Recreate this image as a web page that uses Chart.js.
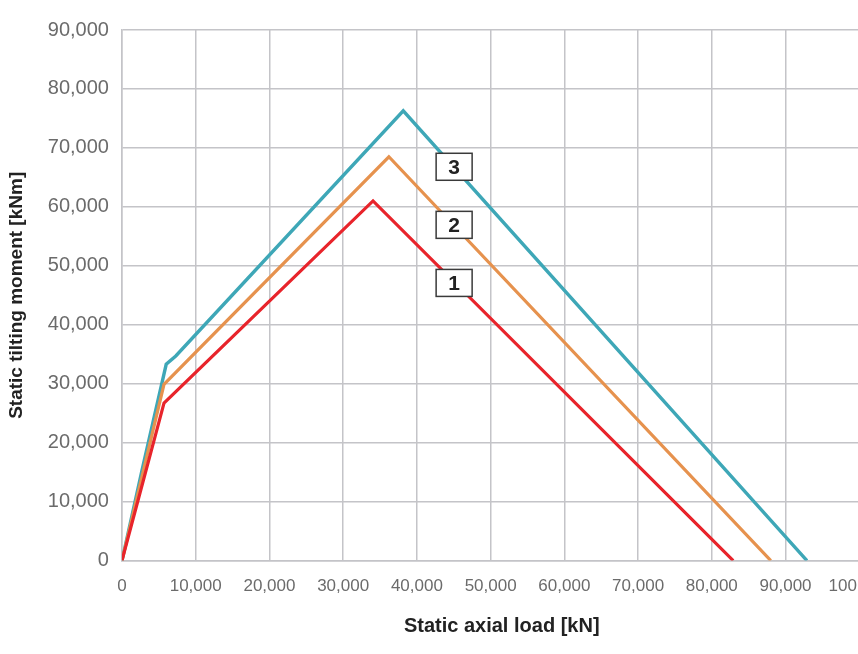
<!DOCTYPE html>
<html>
<head>
<meta charset="utf-8">
<script src="https://cdn.jsdelivr.net/npm/chart.js@4.4.1/dist/chart.umd.min.js"></script>
<style>
  html, body { margin: 0; padding: 0; background: #fff; overflow: hidden; }
  #wrap { position: relative; width: 906px; height: 654px; }
</style>
</head>
<body>
<div id="wrap"><canvas id="tilting"></canvas></div>
<script>
// curve 1 (red)
const loadRed = [0, 5700, 34050, 82900];
const momentRed = [0, 26700, 61000, 0];
// curve 2 (orange)
const loadOrange = [0, 5700, 36200, 88000];
const momentOrange = [0, 29900, 68500, 0];
// curve 3 (teal)
const loadTeal = [0, 2700, 6000, 7300, 38150, 92900];
const momentTeal = [0, 15200, 33300, 34700, 76300, 0];

const curveNames = ['1', '2', '3'];

const toPoints = (xs, ys) => xs.map((x, i) => ({ x: x, y: ys[i] }));

// numbered boxes next to the descending branches
const curveTags = {
  id: 'curveTags',
  afterDatasetsDraw(chart) {
    const ctx = chart.ctx;
    const xs = chart.scales.x, ys = chart.scales.y;
    const spots = [[45050, 47100], [45050, 56950], [45050, 66800]];
    ctx.save();
    spots.forEach((s, i) => {
      const cx = xs.getPixelForValue(s[0]);
      const cy = ys.getPixelForValue(s[1]);
      ctx.fillStyle = '#fff';
      ctx.fillRect(cx - 18, cy - 13.5, 36, 27);
      ctx.strokeStyle = '#3a3a3a';
      ctx.lineWidth = 1.5;
      ctx.strokeRect(cx - 18, cy - 13.5, 36, 27);
      ctx.fillStyle = '#222';
      ctx.font = 'bold 21px "Liberation Sans", Arial';
      ctx.textAlign = 'center';
      ctx.textBaseline = 'middle';
      ctx.fillText(curveNames[i], cx, cy + 1);
    });
    ctx.restore();
  }
};

const fmt = v => v.toLocaleString('en-US');

new Chart(document.getElementById('tilting'), {
  type: 'line',
  data: {
    datasets: [
      { label: '1', data: toPoints(loadRed, momentRed), borderColor: '#e8242b', borderWidth: 3.2, pointRadius: 0, tension: 0 },
      { label: '2', data: toPoints(loadOrange, momentOrange), borderColor: '#e6924e', borderWidth: 3.2, pointRadius: 0, tension: 0 },
      { label: '3', data: toPoints(loadTeal, momentTeal), borderColor: '#3ea7b7', borderWidth: 3.4, pointRadius: 0, tension: 0 }
    ]
  },
  options: {
    responsive: true,
    maintainAspectRatio: false,
    animation: false,
    layout: { padding: { top: 30, left: 5, right: 0, bottom: 16 } },
    plugins: {
      legend: { display: false },
      tooltip: { enabled: false }
    },
    scales: {
      x: {
        type: 'linear',
        min: 0,
        max: 100000,
        grid: { color: '#c4c4c8', lineWidth: 1.5, drawTicks: false },
        border: { color: '#c4c4c8', width: 1.5 },
        ticks: {
          stepSize: 10000,
          padding: 16,
          color: '#6b6b6b',
          maxRotation: 0,
          font: { family: '"Liberation Sans", Arial', size: 17 },
          callback: fmt
        },
        title: {
          display: true,
          text: '    Static axial load [kN]',
          color: '#222',
          padding: { top: 1, bottom: 0 },
          font: { family: '"Liberation Sans", Arial', size: 20, weight: 'bold' }
        }
      },
      y: {
        min: 0,
        max: 90000,
        grid: { color: '#c4c4c8', lineWidth: 1.5, drawTicks: false },
        border: { color: '#c4c4c8', width: 1.5 },
        ticks: {
          stepSize: 10000,
          padding: 13,
          color: '#6b6b6b',
          font: { family: '"Liberation Sans", Arial', size: 20 },
          callback: fmt
        },
        title: {
          display: true,
          text: 'Static tilting moment [kNm]',
          color: '#222',
          padding: { top: 0, bottom: 7 },
          font: { family: '"Liberation Sans", Arial', size: 19, weight: 'bold' }
        }
      }
    }
  },
  plugins: [curveTags]
});
</script>
</body>
</html>
